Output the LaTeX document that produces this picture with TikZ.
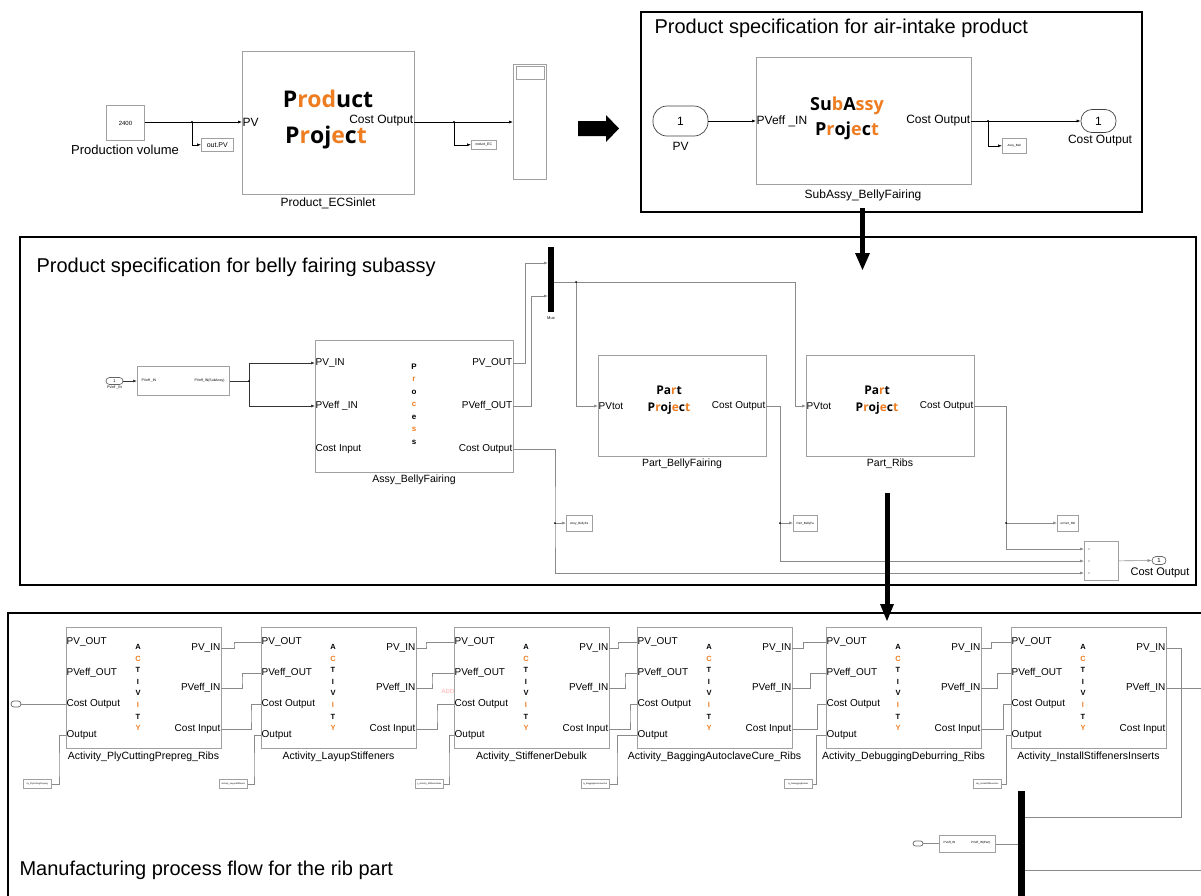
\documentclass[tikz,border=0pt]{standalone}
\usepackage{fontspec}
\setmainfont{Liberation Sans}
\newfontfamily\logofont{Open Sans}
\usetikzlibrary{positioning, arrows.meta, calc}
\definecolor{logoorange}{HTML}{EE7D22}
\definecolor{blockgray}{HTML}{A0A0A0}
\definecolor{wiregray}{HTML}{8A8A8A}
\newcommand{\fsz}[1]{\fontsize{#1}{#1}\selectfont}
\newcommand{\og}[1]{\textcolor{logoorange}{#1}}

\begin{document}
\begin{tikzpicture}[x=1pt, y=-1pt]
    % Definitions
    \def\actY{627}

    % Styles
    \tikzstyle{simblock} = [draw=blockgray, line width=0.9pt, fill=white, inner sep=0pt, anchor=north west]
    \tikzstyle{tagbox} = [draw=blockgray, line width=0.6pt, fill=white, inner sep=0pt, anchor=north west, font=\fsz{3}]
    \tikzstyle{wireline} = [draw=wiregray, line width=0.6pt]
    \tikzstyle{sigline} = [draw=black, line width=0.6pt, -{Latex[length=4pt, width=3pt]}]
    \tikzstyle{graysig} = [wireline, -{Latex[length=4pt, width=3pt]}]
    \tikzstyle{panel} = [draw=black, line width=2pt]
    \tikzstyle{portlbl} = [inner sep=0.5pt, font=\fsz{12}]
    \tikzstyle{smallport} = [inner sep=0.5pt, font=\fsz{10}]
    \tikzstyle{ioport} = [draw=black!75, line width=0.7pt, inner sep=0pt, fill=white]
    \tikzstyle{muxbar} = [fill=black, inner sep=0pt, anchor=north west]
    \tikzstyle{logo} = [font=\logofont\bfseries\fsz{23}]

    \useasboundingbox (0,0) rectangle (1201,895);
    \clip (0,0) rectangle (1201,895);

    % Top model
    \node[simblock, minimum width=38pt, minimum height=35pt, font=\fsz{6}] (pvconst) at (106,105) {2400};
    \node[font=\fsz{13}] (pvconstlbl) at (125,150) {Production volume};
    \node[simblock, minimum width=172pt, minimum height=143pt] (prod) at (242,51) {};
    \node[portlbl, anchor=west] (prodpv) at (242,122) {PV};
    \node[portlbl, anchor=east] (prodcost) at (414,121) {Cost Output};
    \node[logo] (prodlogo1) at (328,99) {P\og{rod}uct};
    \node[logo] (prodlogo2) at (326,138) {P\og{r}oj\og{e}c\og{t}};
    \node[font=\fsz{12}] (prodlbl) at (328,203) {Product\_ECSinlet};
    \node[tagbox, minimum width=32pt, minimum height=13pt, font=\fsz{7}] (outpv) at (201,138) {out.PV};
    \node[tagbox, minimum width=25pt, minimum height=9pt, font=\fsz{3.5}] (outcost) at (471,140) {roduct\_EC};
    \node[simblock, minimum width=33pt, minimum height=115pt] (scope) at (513,64) {};
    \draw[blockgray, line width=0.6pt] (516,66) rectangle (544,79);

    \coordinate (pvsplit) at (192,122);
    \coordinate (costsplit) at (454,122);
    \draw[sigline] (pvconst.east |- prodpv.west) -- (prodpv.west);
    \draw[sigline] (pvsplit) |- (outpv.west);
    \draw[sigline] (prodcost.east |- prodpv.west) -- (prodpv.west -| scope.west);
    \draw[sigline] (costsplit) |- (outcost.west);
    \fill (pvsplit) circle (1.2pt) (costsplit) circle (1.2pt);

    \fill (578,121) -- (606,121) -- (606,115) -- (619,128.5) -- (606,142) -- (606,136) -- (578,136) -- cycle;

    % Air-intake product
    \draw[panel] (641,12) rectangle (1142,212);
    \node[anchor=west, font=\fsz{20}] (airtitle) at (651,28) {Product specification for air-intake product};
    \node[ioport, rounded corners=14pt, minimum width=55pt, minimum height=30pt, font=\fsz{12}] (pvport) at (680.5,121) {1};
    \node[font=\fsz{12}] (pvportlbl) at (680.5,146) {PV};
    \node[simblock, minimum width=215pt, minimum height=127pt] (subassy) at (756,57) {};
    \node[portlbl, anchor=west] (subpv) at (756,121) {PVeff \_IN};
    \node[portlbl, anchor=east] (subcost) at (971,121) {Cost Output};
    \node[logo, font=\logofont\bfseries\fsz{18}] (sublogo1) at (847,106) {Su\og{b}A\og{ssy}};
    \node[logo, font=\logofont\bfseries\fsz{18}] (sublogo2) at (847,131) {P\og{r}oj\og{e}c\og{t}};
    \node[font=\fsz{12}] (sublbl) at (863,195) {SubAssy\_BellyFairing};
    \node[ioport, rounded corners=11pt, minimum width=35pt, minimum height=23pt, font=\fsz{12}] (costport) at (1098.5,121) {1};
    \node[font=\fsz{12}] (costportlbl) at (1100,141) {Cost Output};
    \node[tagbox, minimum width=24pt, minimum height=15pt] (subtag) at (1002,138) {Assy\_Bell};
    \coordinate (subsplit) at (988,121);
    \draw[sigline] (pvport.east) -- (subpv.west);
    \draw[sigline] (subcost.east) -- (costport.west);
    \draw[sigline] (subsplit) |- (subtag.west);
    \fill (subsplit) circle (1.2pt);

    \fill (860,208) rectangle (865,253);
    \fill (855,253) -- (870,253) -- (862.5,270) -- cycle;

    % Belly fairing subassy
    \draw[panel] (20,237) rectangle (1196,585);
    \node[anchor=west, font=\fsz{20}] (belltitle) at (33,267) {Product specification for belly fairing subassy};
    \node[ioport, draw=black!60, rounded corners=3.5pt, minimum width=17pt, minimum height=7pt, font=\fsz{4}] (pveffsrc) at (114.5,381) {1};
    \node[font=\fsz{3.5}] (pveffsrclbl) at (114.5,388) {PVeff \_IN};
    \node[simblock, line width=0.6pt, minimum width=92pt, minimum height=29pt] (pveffsub) at (137,366) {};
    \node[anchor=west, font=\fsz{3.5}] (pveffsubin) at (138,380.5) {PVeff \_IN};
    \node[anchor=east, font=\fsz{3.5}] (pveffsubout) at (228,380.5) {PVeff\_IN(SubAssy)};

    \node[simblock, line width=0.7pt, minimum width=198pt, minimum height=132pt] (assy) at (315,340) {};
    \node[smallport, anchor=west] (assy-pvin) at (315,363) {PV\_IN};
    \node[smallport, anchor=west] (assy-pveffin) at (315,406) {PVeff \_IN};
    \node[smallport, anchor=west] (assy-costin) at (315,449) {Cost Input};
    \node[smallport, anchor=east] (assy-pvout) at (513,363) {PV\_OUT};
    \node[smallport, anchor=east] (assy-pveffout) at (513,406) {PVeff\_OUT};
    \node[smallport, anchor=east] (assy-costout) at (513,449) {Cost Output};
    \foreach \ch/\col [count=\k] in {P/black, r/logoorange, o/black, c/logoorange, e/black, s/logoorange, s/black} {
        \node[font=\bfseries\fsz{8}, text=\col] (proc\k) at (414,354.5+12.5*\k) {\ch};
    }
    \node[font=\fsz{10.5}] (assylbl) at (414,480) {Assy\_BellyFairing};

    \node[muxbar, minimum width=6pt, minimum height=65pt] (mux) at (548,247) {};
    \node[font=\fsz{4}] (muxlbl) at (551,318) {Mux};

    \node[simblock, line width=0.7pt, minimum width=168pt, minimum height=101pt] (pbf) at (598,355) {};
    \node[smallport, anchor=west] (pbf-pvtot) at (598,406) {PVtot};
    \node[smallport, anchor=east] (pbf-costout) at (766,406) {Cost Output};
    \node[logo, font=\logofont\bfseries\fsz{12}] (pbflogo1) at (669,390) {Pa\og{r}t};
    \node[logo, font=\logofont\bfseries\fsz{12}] (pbflogo2) at (669,408) {P\og{r}oj\og{e}c\og{t}};
    \node[font=\fsz{10.5}] (pbflbl) at (682,464) {Part\_BellyFairing};

    \node[simblock, line width=0.7pt, minimum width=168pt, minimum height=101pt] (ribs) at (806,355) {};
    \node[smallport, anchor=west] (ribs-pvtot) at (806,406) {PVtot};
    \node[smallport, anchor=east] (ribs-costout) at (974,406) {Cost Output};
    \node[logo, font=\logofont\bfseries\fsz{12}] (ribslogo1) at (877,390) {Pa\og{r}t};
    \node[logo, font=\logofont\bfseries\fsz{12}] (ribslogo2) at (877,408) {P\og{r}oj\og{e}c\og{t}};
    \node[font=\fsz{10.5}] (ribslbl) at (890,464) {Part\_Ribs};

    \node[tagbox, minimum width=26pt, minimum height=16pt] (assytag) at (566,515) {Assy\_BellyFa};
    \node[tagbox, minimum width=24pt, minimum height=16pt] (pbftag) at (793,515) {Part\_BellyFa};
    \node[tagbox, minimum width=21pt, minimum height=16pt] (ribstag) at (1057,515) {ut Part\_Rib};
    \node[simblock, line width=0.7pt, minimum width=34pt, minimum height=39pt] (sumblk) at (1084,541) {};
    \node[ioport, draw=black!60, rounded corners=4pt, minimum width=14pt, minimum height=8pt, font=\fsz{6}] (bellout) at (1159,560.5) {1};
    \node[font=\fsz{11}] (belloutlbl) at (1160,573) {Cost Output};

    \coordinate (assysplit) at (249,381);
    \coordinate (muxin1) at (548,263);
    \coordinate (muxin2) at (548,296);
    \coordinate (muxout) at (554,282);
    \coordinate (muxsplit) at (576,282);
    \coordinate (assycostsplit) at (555,523);
    \coordinate (pbfcostsplit) at (780,523);
    \coordinate (ribscostsplit) at (1006,523);
    \coordinate (sumin1) at (1084,549);
    \coordinate (sumin2) at (1084,561);
    \coordinate (sumin3) at (1084,573);
    \draw[graysig, draw=black!80] (pveffsrc.east) -- (pveffsrc.east -| pveffsub.west);
    \draw[wireline, draw=black!80] (pveffsub.east |- assysplit) -- (assysplit);
    \draw[graysig, draw=black!80] (assysplit) |- (assy-pvin.west);
    \draw[graysig, draw=black!80] (assysplit) |- (assy-pveffin.west);
    \draw[graysig] (assy-pvout.east) -- ++(12,0) |- (muxin1);
    \draw[graysig] (assy-pveffout.east) -- ++(18,0) |- (muxin2);
    \draw[graysig] (muxout) -| (795,340) |- (ribs-pvtot.west);
    \draw[graysig] (muxsplit) |- (pbf-pvtot.west);
    \draw[graysig] (assy-costout.east) -| (assycostsplit) |- (sumin3);
    \draw[graysig] (assycostsplit) -- (assytag.west |- assycostsplit);
    \draw[graysig] (pbf-costout.east) -| (pbfcostsplit) |- (sumin2);
    \draw[graysig] (pbfcostsplit) -- (pbftag.west |- pbfcostsplit);
    \draw[graysig] (ribs-costout.east) -| (ribscostsplit) |- (sumin1);
    \draw[graysig] (ribscostsplit) -- (ribstag.west |- ribscostsplit);
    \draw[graysig] (sumblk.east) -- (bellout.west);
    \fill (assysplit) circle (1pt) (muxsplit) circle (1pt) (assycostsplit) circle (1pt)
          (pbfcostsplit) circle (1pt) (ribscostsplit) circle (1pt);
    \foreach \y in {549,561,573} \fill[black!70] (1089,\y) circle (0.6pt);

    \fill (884.5,493) rectangle (889.5,605);
    \fill (880,604) -- (894,604) -- (887,621) -- cycle;

    % Rib part process flow
    \draw[panel] (8,905) -- (8,613) -- (1210,613);
    \node[anchor=west, font=\fsz{20}] (ribtitle) at (16,870) {Manufacturing process flow for the rib part};

    \foreach \i/\bx/\lbl in {1/66/Activity\_PlyCuttingPrepreg\_Ribs, 2/261/Activity\_LayupStiffeners,
            3/454/Activity\_StiffenerDebulk, 4/637/Activity\_BaggingAutoclaveCure\_Ribs,
            5/826/Activity\_DebuggingDeburring\_Ribs, 6/1011/Activity\_InstallStiffenersInserts} {
        \node[simblock, line width=0.6pt, minimum width=155pt, minimum height=121pt] (act\i) at (\bx,\actY) {};
        \node[smallport, anchor=west] (act\i-pvout) at (\bx,642) {PV\_OUT};
        \node[smallport, anchor=west] (act\i-pveffout) at (\bx,673) {PVeff\_OUT};
        \node[smallport, anchor=west] (act\i-costout) at (\bx,704) {Cost Output};
        \node[smallport, anchor=west] (act\i-out) at (\bx,735) {Output};
        \node[smallport, anchor=east] (act\i-pvin) at (\bx+155,648) {PV\_IN};
        \node[smallport, anchor=east] (act\i-pveffin) at (\bx+155,688) {PVeff\_IN};
        \node[smallport, anchor=east] (act\i-costin) at (\bx+155,729) {Cost Input};
        \foreach \ch/\col [count=\k] in {A/black, C/logoorange, T/black, I/black, V/black, I/logoorange, T/black, Y/logoorange} {
            \node[font=\bfseries\fsz{7.5}, text=\col] (act\i-l\k) at (\bx+72,635.4+11.6*\k) {\ch};
        }
        \node[font=\fsz{10.5}] (act\i-lbl) at (\bx+77.5,757) {\lbl};
    }

    \foreach \i/\j/\xa/\xb/\xc in {1/2/234/242/251, 2/3/426/432/437, 3/4/618/625/630, 4/5/803/810/817, 5/6/991/997/1003} {
        \draw[wireline] (act\i-pvin.east) -| (\xa,645) |- (act\j-pvout.west);
        \draw[wireline] (act\i-pveffin.east) -| (\xb,680) |- (act\j-pveffout.west);
        \draw[wireline] (act\i-costin.east) -| (\xc,716) |- (act\j-costout.west);
    }

    \foreach \i/\vx/\tx/\ttxt in {1/59/23/ity\_PlyCuttingPrepreg, 2/254/219/Activity\_LayupStiffeners,
            3/449/415/y\_Activity\_StiffenerDebu, 4/617/581/ty\_BaggingAutoclaveCur,
            5/816/784/ty\_DebuggingDeburr, 6/1006/973/vity\_InstallStiffenersIns} {
        \node[tagbox, minimum width=28pt, minimum height=9pt, font=\fsz{2.2}] (acttag\i) at (\tx,779) {\ttxt};
        \draw[wireline] (act\i-out.west) -| (\vx,770) |- (acttag\i.east);
    }

    \node[text=red!35, font=\fsz{6}] (addmark) at (448,691) {ADD};
    \node[ioport, draw=black!60, rounded corners=3pt, minimum width=10pt, minimum height=6pt] (costsink) at (16,704) {};
    \draw[wireline] (act1-costout.west) -- (costsink.east);

    \node[muxbar, minimum width=7pt, minimum height=120pt] (ribbar) at (1018,791) {};
    \node[tagbox, minimum width=56pt, minimum height=17pt] (ribsub) at (939,835) {};
    \node[anchor=west, font=\fsz{3}] (ribsubin) at (940,843) {PVeff\_IN};
    \node[anchor=east, font=\fsz{3}] (ribsubout) at (994,843) {PVeff\_IN(Part)};
    \node[ioport, draw=black!60, rounded corners=2.5pt, minimum width=10pt, minimum height=5pt] (ribsrc) at (918,843.5) {};
    \coordinate (ribtap) at (1181,817);
    \draw[wireline] (act6-pvin.east) -| (ribtap) -- (ribtap -| ribbar.east);
    \draw[wireline] (act6-pveffin.east) -- ++(45,0);
    \draw[wireline] (ribsrc.east) -- (ribsrc.east -| ribsub.west);
    \draw[wireline] (ribsub.east) -- (ribsub.east -| ribbar.west);
    \draw[wireline] (ribbar.east |- 0,870) -- ++(185,0);
\end{tikzpicture}
\end{document}
